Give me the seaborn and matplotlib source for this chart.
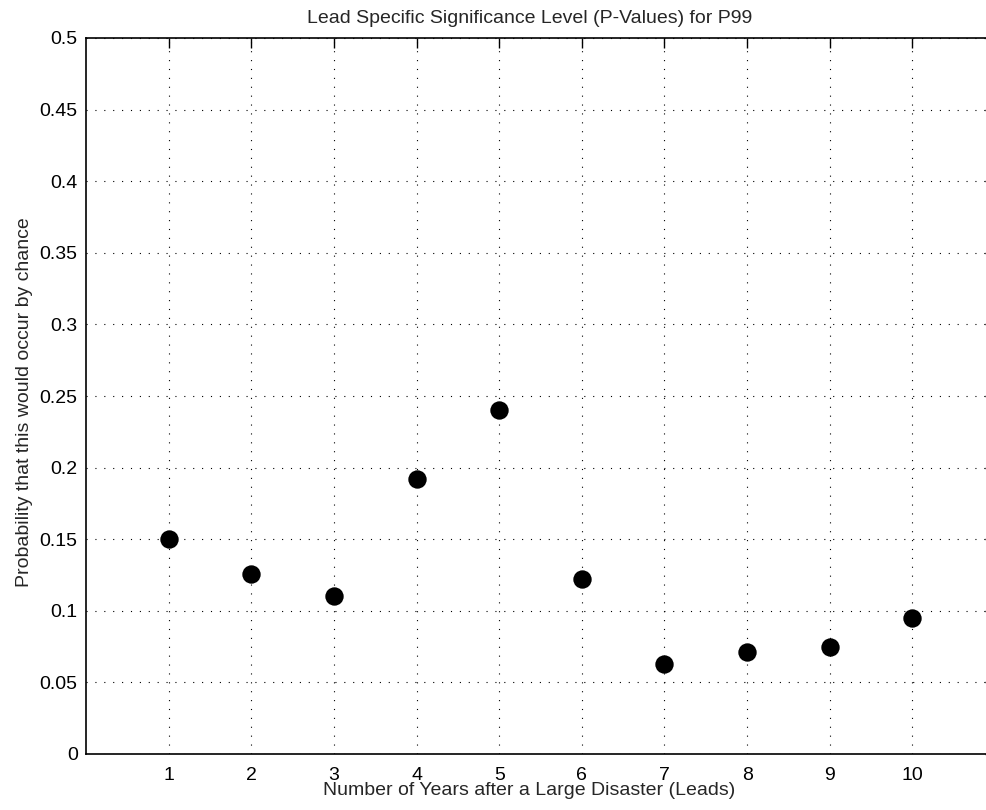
import matplotlib
matplotlib.use("Agg")
import matplotlib.pyplot as plt
import seaborn as sns
import pandas as pd

leads = [1, 2, 3, 4, 5, 6, 7, 8, 9, 10]
p_values = [0.150, 0.126, 0.110, 0.192, 0.240, 0.122, 0.063, 0.071, 0.075, 0.095]
y_ticks = [0, 0.05, 0.1, 0.15, 0.2, 0.25, 0.3, 0.35, 0.4, 0.45, 0.5]
y_tick_labels = ["0", "0.05", "0.1", "0.15", "0.2", "0.25", "0.3", "0.35", "0.4", "0.45", "0.5"]

df = pd.DataFrame({"lead": leads, "p": p_values})

sns.set_style("white")
plt.rcParams["font.family"] = ["Liberation Sans", "DejaVu Sans"]

fig = plt.figure(figsize=(9.87, 8.10), dpi=100)
W, H = 987, 810
left, right, top, bottom = 86, 995, 38, 754
ax = fig.add_axes([left / W, 1 - bottom / H, (right - left) / W, (bottom - top) / H])

sns.scatterplot(data=df, x="lead", y="p", ax=ax, color="black", s=175,
                edgecolor="black", linewidth=0, zorder=3, legend=False)

ax.set_xlim(0, 11)
ax.set_ylim(0, 0.5)
ax.set_xticks(leads)
ax.set_xticklabels([str(v) for v in leads])
ax.set_yticks(y_ticks)
ax.set_yticklabels(y_tick_labels)

ax.grid(True, color="black", linestyle=(0, (1, 7)), linewidth=0.8)
ax.set_axisbelow(True)
for s in ax.spines.values():
    s.set_color("black")
    s.set_linewidth(1.2)

ax.tick_params(axis="both", which="both", direction="in", length=7, width=1.0,
               colors="black", labelsize=14, top=True, right=True)
ax.tick_params(axis="x", pad=9)
ax.tick_params(axis="y", pad=6)

ax.set_title("Lead Specific Significance Level (P-Values) for P99", fontsize=14,
             x=(530 - left) / (right - left), pad=11)
ax.set_xlabel("Number of Years after a Large Disaster (Leads)", fontsize=14)
ax.set_ylabel("Probability that this would occur by chance", fontsize=14)
ax.xaxis.set_label_coords((529 - left) / (right - left), -(782 - bottom) / (bottom - top))
ax.yaxis.set_label_coords(-(86 - 33) / (right - left), (bottom - 402) / (bottom - top))

fig.savefig("out.png", dpi=100)
